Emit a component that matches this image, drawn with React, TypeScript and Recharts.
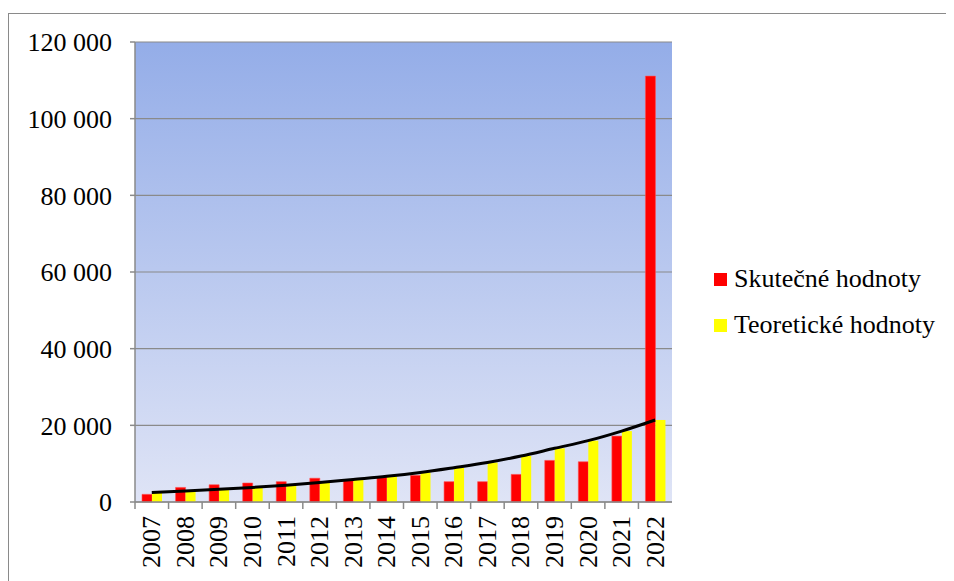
import React from "react";
import {
  ComposedChart, Bar, Line, XAxis, YAxis, CartesianGrid,
} from "recharts";

const years = [
  "2007", "2008", "2009", "2010", "2011", "2012", "2013", "2014",
  "2015", "2016", "2017", "2018", "2019", "2020", "2021", "2022",
];
const actual = [
  2000, 3800, 4500, 4950, 5300, 6200, 5700, 6500,
  6950, 5300, 5300, 7200, 10850, 10500, 17200, 111100,
];
const theoretical = [
  2500, 2900, 3300, 3800, 4400, 5100, 5900, 6700,
  7700, 8950, 10300, 12000, 14000, 16000, 18500, 21400,
];
const yTicks = [0, 20000, 40000, 60000, 80000, 100000, 120000];

const FONT = "Liberation Serif";
const GREY = "#8a8a8a";
const PLOT_W = 537;

const data = years.map((year, i) => ({
  year,
  actual: actual[i],
  theoretical: theoretical[i],
}));

const fmt = (v: number) => String(v).replace(/\B(?=(\d{3})+(?!\d))/g, " ");

const YearTick = ({ x, y, payload }: any) => {
  const half = PLOT_W / years.length / 2;
  return (
    <g>
      <line x1={x - half} y1={y} x2={x - half} y2={y + 7} stroke={GREY} strokeWidth={1.5} />
      <text
        x={x}
        y={y + 14}
        transform={`rotate(-90, ${x}, ${y + 14})`}
        textAnchor="end"
        dominantBaseline="central"
        style={{ fontFamily: FONT }}
        fontSize={26}
        fill="#000"
      >
        {payload.value}
      </text>
    </g>
  );
};

const legendItems = [
  { name: "Skutečné hodnoty", color: "#FF0000" },
  { name: "Teoretické hodnoty", color: "#FFFF00" },
];

export default function App() {
  return (
    <div
      style={{
        position: "relative",
        marginTop: 5,
        width: 960,
        height: 580,
        borderTop: `1.5px solid ${GREY}`,
        borderLeft: `1.5px solid ${GREY}`,
        overflow: "hidden",
      }}
    >
      <ComposedChart
        width={946}
        height={567}
        data={data}
        barSize={10}
        barGap={0}
        margin={{ top: 28, right: 283, bottom: 0, left: 0 }}
      >
        <defs>
          <linearGradient id="bgGrad" x1="0" y1="0" x2="0" y2="1">
            <stop offset="0%" stopColor="#94ADE8" />
            <stop offset="100%" stopColor="#DFE4F6" />
          </linearGradient>
        </defs>
        <CartesianGrid vertical={false} stroke={GREY} strokeWidth={1.2} fill="url(#bgGrad)" fillOpacity={1} />
        <XAxis
          dataKey="year"
          height={79}
          tickLine={false}
          tickSize={0}
          tickMargin={0}
          axisLine={{ stroke: GREY, strokeWidth: 1.5 }}
          tick={<YearTick />}
          interval={0}
        />
        <YAxis
          width={126}
          domain={[0, 120000]}
          ticks={yTicks}
          tickFormatter={fmt}
          tickSize={5}
          tickMargin={18}
          axisLine={{ stroke: GREY, strokeWidth: 1.5 }}
          tickLine={{ stroke: GREY, strokeWidth: 1.5 }}
          tick={{ fontFamily: FONT, fontSize: 26, fill: "#000", style: { fontFamily: FONT } }}
        />
        <Bar dataKey="actual" name="Skutečné hodnoty" fill="#FF0000" stroke="#ff5050" strokeWidth={0.6} isAnimationActive={false} />
        <Bar dataKey="theoretical" name="Teoretické hodnoty" fill="#FFFF00" isAnimationActive={false} />
        <Line
          dataKey="theoretical"
          type="monotone"
          stroke="#000"
          strokeWidth={3}
          dot={false}
          legendType="none"
          isAnimationActive={false}
        />
      </ComposedChart>
      <div
        style={{
          position: "absolute",
          left: 705,
          top: 242,
          fontFamily: FONT,
          fontSize: 26,
          color: "#000",
        }}
      >
        {legendItems.map((e) => (
          <div key={e.name} style={{ display: "flex", alignItems: "center", height: 46, whiteSpace: "nowrap" }}>
            <span style={{ width: 13, height: 13, background: e.color, marginRight: 7, display: "inline-block" }} />
            {e.name}
          </div>
        ))}
      </div>
    </div>
  );
}
